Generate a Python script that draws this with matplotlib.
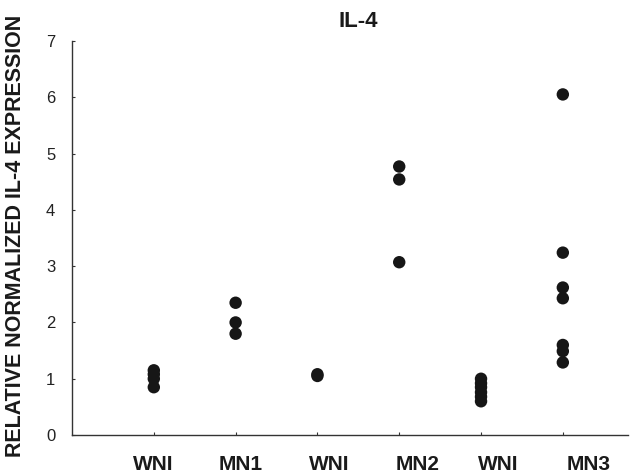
import matplotlib
matplotlib.use("Agg")
import matplotlib.pyplot as plt

plt.rcParams["font.family"] = ["Liberation Sans", "DejaVu Sans"]

# Group labels along the x axis and the measured IL-4 expression per animal
groups = ["WNI", "MN1", "WNI", "MN2", "WNI", "MN3"]
wni_1 = [1.15, 1.08, 1.0, 0.85]
mn1 = [2.35, 2.0, 1.8]
wni_2 = [1.08, 1.05]
mn2 = [4.77, 4.54, 3.07]
wni_3 = [1.0, 0.92, 0.85, 0.76, 0.68, 0.6]
mn3 = [6.05, 3.24, 2.62, 2.43, 1.6, 1.49, 1.29]
values = [wni_1, mn1, wni_2, mn2, wni_3, mn3]

# Horizontal placement of the group captions (data units)
label_x = [0.99, 2.06, 3.15, 4.23, 5.21, 6.32]

fig = plt.figure(figsize=(6.35, 4.76), dpi=100)
ax = fig.add_axes([0.1134, 0.086, 0.876, 0.828])

for i, vals in enumerate(values, start=1):
    ax.scatter([i] * len(vals), vals, s=80, color="#161616",
               edgecolors="none", zorder=3, clip_on=False)

ax.set_xlim(0, 6.8)
ax.set_ylim(0, 7)
ax.set_xticks(range(1, len(groups) + 1))
ax.set_xticklabels([])
ax.set_yticks(range(0, 8))
ax.tick_params(axis="both", direction="in", length=2, width=0.8,
               color="#333333")
ax.tick_params(axis="y", labelsize=12, pad=12, labelcolor="#222222")

for side in ("top", "right"):
    ax.spines[side].set_visible(False)
for side in ("left", "bottom"):
    ax.spines[side].set_color("#333333")
    ax.spines[side].set_linewidth(1.0)

for x, name in zip(label_x, groups):
    ax.text(x, -0.52, name, ha="center", va="center", fontsize=15,
            fontweight="bold", color="#1a1a1a")

ax.set_ylabel("RELATIVE NORMALIZED IL-4 EXPRESSION", fontsize=15.5,
              fontweight="bold", color="#1a1a1a")
ax.yaxis.set_label_coords(-0.083, 0.505)
ax.set_title("IL-4", fontsize=16, fontweight="bold", color="#1a1a1a",
             x=0.515, y=1.015)

fig.savefig("out.png", dpi=100)
